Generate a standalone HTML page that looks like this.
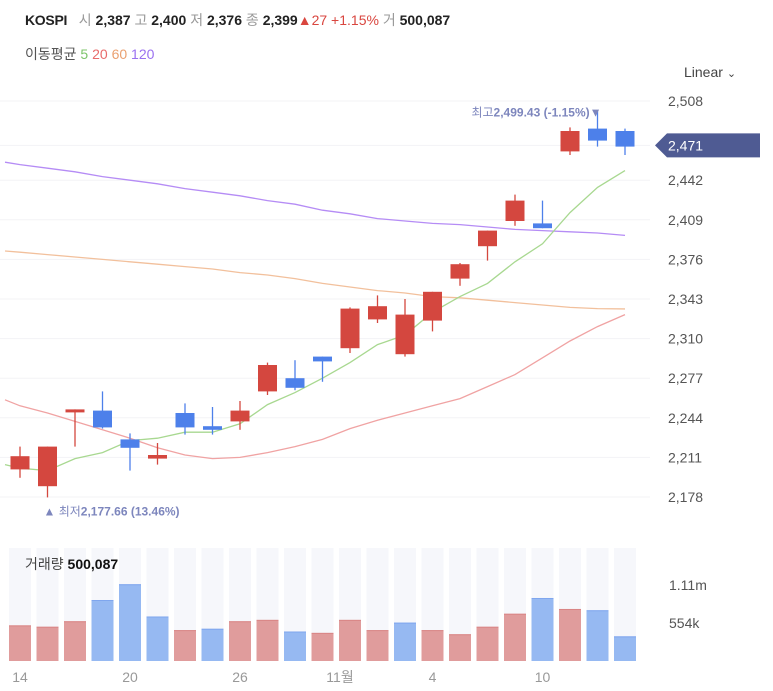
<!DOCTYPE html>
<html><head><meta charset="utf-8">
<style>
body{margin:0;background:#fff;font-family:"Liberation Sans","Noto Sans CJK KR",sans-serif;}
#wrap{position:relative;width:773px;height:691px;overflow:hidden;}
.t{position:absolute;white-space:nowrap;}
</style></head>
<body>
<div id="wrap">
<div class="t" style="left:25px;top:10px;font-size:14px;color:#222;">
<b style="letter-spacing:-0.3px">KOSPI</b>&nbsp;&nbsp;&nbsp;<span style="color:#999">시</span>&nbsp;<b>2,387</b> <span style="color:#999">고</span>&nbsp;<b>2,400</b> <span style="color:#999">저</span>&nbsp;<b>2,376</b> <span style="color:#999">종</span>&nbsp;<b>2,399</b><span style="color:#d9463f">▲27 +1.15%</span> <span style="color:#999">거</span>&nbsp;<b>500,087</b></div>
<div class="t" style="left:25px;top:44px;font-size:14px;color:#555;">이동평균 <span style="color:#7cc46a">5</span> <span style="color:#e86a6a">20</span> <span style="color:#eaa070">60</span> <span style="color:#9a70f0">120</span></div>
<div class="t" style="left:684px;top:64px;font-size:14px;color:#444;">Linear <span style="font-size:11px">&#8964;</span></div>
<svg id="svg" width="773" height="691" style="position:absolute;left:0;top:0"></svg>
</div>
<script>
const days=23;
const opens=[2201,2187,2249,2250,2226,2210,2248,2237,2241,2266,2277,2295,2302,2326,2297,2325,2360,2387,2408,2406,2466,2485,2483];
const highs=[2220,2220,2251,2266,2231,2223,2256,2253,2258,2290,2292,2295,2336,2346,2343,2349,2373,2400,2430,2425,2486,2499.43,2485];
const lows=[2194,2177.66,2220,2235,2200,2205,2230,2230,2234,2263,2267,2274,2298,2323,2295,2316,2354,2375,2404,2402,2463,2470,2463];
const closes=[2212,2220,2251,2236,2219,2213,2236,2234,2250,2288,2269,2291,2335,2337,2330,2349,2372,2400,2425,2402,2483,2475,2470];
const ma5=[2205,2202,2200,2210,2215,2225,2227,2232,2232,2239,2255,2265,2277,2290,2305,2313,2332,2345,2356,2374,2389,2415,2436,2450];
const ma20=[2259,2254,2248,2241,2234,2227,2219,2213,2210,2211,2215,2220,2226,2235,2242,2248,2254,2260,2270,2280,2294,2308,2320,2330];
const ma60=[2383,2382,2380,2378,2376,2374,2372,2370,2368,2365,2363,2360,2356,2353,2350,2348,2345,2344,2342,2340,2338,2336,2335,2334.7];
const ma120=[2457,2455,2452,2449,2445,2442,2439,2435,2432,2429,2425,2422,2417,2414,2410,2408,2406,2405,2403,2401,2400,2399,2398,2396];
const volumes=[0.52,0.50,0.58,0.89,1.12,0.65,0.45,0.47,0.58,0.60,0.43,0.41,0.60,0.45,0.56,0.45,0.39,0.50,0.69,0.92,0.76,0.74,0.36];
const volUp=[1,1,1,0,0,0,1,0,1,1,0,1,1,1,0,1,1,1,1,0,1,0,0];
const priceTicks=[2508,2471,2442,2409,2376,2343,2310,2277,2244,2211,2178];
const volTicks=[1.11,0.554];
const volTickLabels=["1.11m","554k"];
const xLabels=[[0,"14"],[4,"20"],[8,"26"],[12,"11월"],[15,"4"],[19,"10"]];
const lastPrice=2471;

const svg=document.getElementById('svg');
const NS='http://www.w3.org/2000/svg';
const X=i=>20+i*27.5;
const Y=p=>101+(2508-p)*1.2;
const VY=v=>661-v*68.5;
function mk(tag,at,parent){const e=document.createElementNS(NS,tag);for(const k in at)e.setAttribute(k,at[k]);(parent||svg).appendChild(e);return e;}
priceTicks.forEach(p=>{
 if(p===lastPrice)return;
 const g=mk('line',{x1:0,x2:650,y1:Y(p),y2:Y(p),stroke:'#f3f3f6','stroke-width':1});
 
 
 const t=mk('text',{x:668,y:Y(p)+5,'font-size':14,fill:'#555'});
 t.textContent=p.toLocaleString('en-US');
 
 
});
{const g=mk('line',{x1:0,x2:650,y1:Y(lastPrice),y2:Y(lastPrice),stroke:'#f3f3f6'});}
function maLine(arr,color,name){
 const pts=arr.map((v,i)=>(i===0?5:X(i-1))+','+Y(v)).join(' ');
 const l=mk('polyline',{points:pts,fill:'none',stroke:color,'stroke-width':1.3});
 
 
}
maLine(ma120,'#b58cf5','ma120-line');
maLine(ma60,'#f2c09c','ma60-line');
maLine(ma20,'#f0a3a3','ma20-line');
maLine(ma5,'#a8d890','ma5-line');
for(let i=0;i<days;i++){
 const up=closes[i]>=opens[i];const c=up?'#d4473f':'#4d80ea';
 const g=mk('g',{});
 
 
 mk('line',{x1:X(i),x2:X(i),y1:Y(highs[i]),y2:Y(lows[i]),stroke:c,'stroke-width':1.3},g);
 const top=Y(Math.max(opens[i],closes[i])),bot=Y(Math.min(opens[i],closes[i]));
 mk('rect',{x:X(i)-9.5,y:top,width:19,height:Math.max(3,bot-top),fill:c},g);
}
{const y=Y(lastPrice);
 const p=mk('path',{d:`M655 ${y} L667 ${y-12} H760 V${y+12} H667 Z`,fill:'#4f5b93'});
 
 
 const t=mk('text',{x:668,y:y+5,'font-size':14,fill:'#fff'});t.textContent=lastPrice.toLocaleString('en-US');
 
 }
{const hi=Math.max(...highs),hiI=highs.indexOf(hi);
 const t=mk('text',{x:X(hiI)+4,y:Y(hi)+5,'font-size':12,fill:'#7d86bd','text-anchor':'end'});
 t.innerHTML='최고<tspan font-weight="bold">'+hi.toFixed(2).replace(/\B(?=(\d{3})+(?!\d))/,',')+' (-1.15%)</tspan>▼';
 
 
 const lo=Math.min(...lows),loI=lows.indexOf(lo);
 const t2=mk('text',{x:X(loI)-4,y:Y(lo)+18,'font-size':12,fill:'#7d86bd'});
 t2.innerHTML='▲ 최저<tspan font-weight="bold">'+lo.toFixed(2).replace(/\B(?=(\d{3})+(?!\d))/,',')+' (13.46%)</tspan>';
 
 }
for(let i=0;i<days;i++){
 const s=mk('rect',{x:X(i)-11,y:548,width:22,height:113,fill:'#f6f7fb'});
 
 
}
for(let i=0;i<days;i++){
 const c=volUp[i]?'#e09c9c':'#96b9f2',e=volUp[i]?'#d98585':'#7fa6ee';
 const b=mk('rect',{x:X(i)-11,y:VY(volumes[i]),width:22,height:661-VY(volumes[i]),fill:c});
 
 
 const l=mk('line',{x1:X(i)-11,x2:X(i)+11,y1:VY(volumes[i])+0.5,y2:VY(volumes[i])+0.5,stroke:e});
 
 
}
volTicks.forEach((v,k)=>{
 const t=mk('text',{x:669,y:VY(v)+5,'font-size':14,fill:'#555'});t.textContent=volTickLabels[k];
 
 
});
{const t=mk('text',{x:25,y:569,'font-size':14,fill:'#444'});t.innerHTML='거래량 <tspan font-weight="bold" fill="#111">500,087</tspan>';
 
 }
xLabels.forEach(([i,s])=>{
 const t=mk('text',{x:X(i)-(s.length>2?10:0),y:682,'font-size':14,fill:'#999','text-anchor':'middle'});t.textContent=s;
 
 
});
</script>
</body></html>
